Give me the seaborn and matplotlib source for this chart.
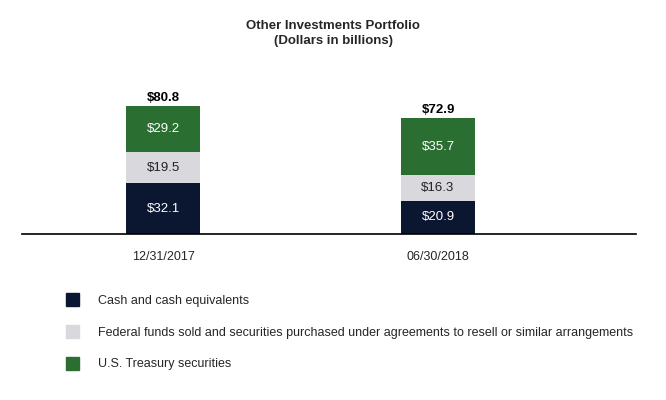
import matplotlib
matplotlib.use("Agg")
import matplotlib.pyplot as plt
import matplotlib.patches as mpatches
import numpy as np
import pandas as pd
import seaborn as sns

dates = ["12/31/2017", "06/30/2018"]
cash = [32.1, 20.9]
fed_funds = [19.5, 16.3]
treasury = [29.2, 35.7]
totals = [80.8, 72.9]
series_names = ["Cash and cash equivalents",
                "Federal funds sold and securities purchased under agreements to resell or similar arrangements",
                "U.S. Treasury securities"]
colors = ["#0b1631", "#d9d8dd", "#2a6e31"]

sns.set_theme(style="white")
plt.rcParams["font.family"] = ["Liberation Sans", "DejaVu Sans"]

fig = plt.figure(figsize=(6.66, 4.0), dpi=100)
ax = fig.add_axes([22 / 666, 1 - 234 / 400, 614 / 666, 164 / 400])

layers = [cash, fed_funds, treasury]
cum = np.cumsum(np.array(layers), axis=0)
# draw tallest cumulative first so lower layers sit on top
for i in reversed(range(3)):
    df = pd.DataFrame({"date": dates, "value": cum[i]})
    sns.barplot(data=df, x="date", y="value", color=colors[i], width=0.27,
                saturation=1, ax=ax, linewidth=0)

for j in range(2):
    for i in range(3):
        mid = cum[i][j] - layers[i][j] / 2
        ax.text(j, mid, f"${layers[i][j]:.1f}", ha="center", va="center", fontsize=9.5,
                color="#222222" if i == 1 else "white")
    ax.text(j, totals[j] + 1.5, f"${totals[j]:.1f}", ha="center", va="bottom",
            fontsize=9.5, fontweight="bold", color="black")

ax.set_xlim(-0.513, 1.72)
ax.set_ylim(0, 103.5)
ax.set_xlabel("")
ax.set_ylabel("")
ax.set_yticks([])
ax.tick_params(axis="x", labelsize=9, length=0, pad=12)
for s in ["top", "right", "left"]:
    ax.spines[s].set_visible(False)
ax.spines["bottom"].set_color("black")
ax.spines["bottom"].set_linewidth(1.2)

fig.text(0.5, 1 - 20 / 400, "Other Investments Portfolio\n(Dollars in billions)",
         ha="center", va="top", fontsize=9.5, fontweight="bold", linespacing=1.3)

handles = [mpatches.Patch(color=c, label=n) for c, n in zip(colors, series_names)]
fig.legend(handles=handles, loc="upper left", bbox_to_anchor=(55 / 666, 1 - 282 / 400),
           frameon=False, fontsize=9, labelspacing=1.45, handlelength=1.0,
           handleheight=1.2, handletextpad=1.5)

fig.savefig("out.png", dpi=100)
